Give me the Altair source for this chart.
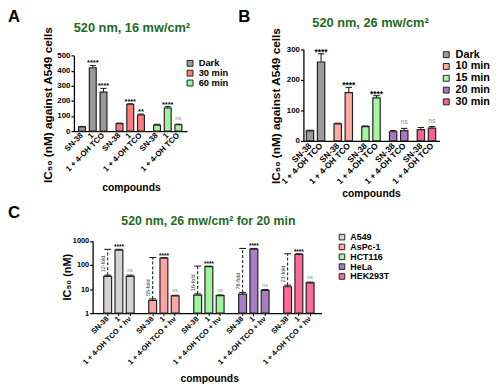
import altair as alt
import pandas as pd

FONT = "Liberation Sans"
GREEN = "#1d6b1d"
INK = "#222222"

# ---------------- Panel A data ----------------
A_title = "520 nm, 16 mw/cm²"
A_groups = ["Dark", "30 min", "60 min"]
A_compounds = ["SN-38", "1", "1 + 4-OH TCO"]
A_values = [[28, 420, 258], [50, 178, 107], [40, 153, 42]]
A_errors = [[3, 15, 25], [3, 3, 6], [5, 10, 4]]
A_sig = [["", "****", "****"], ["", "****", "**"], ["", "****", "ns"]]
A_colors = ["#9a9a9a", "#ff7b7b", "#9ef29e"]
A_yticks = [0, 100, 200, 300, 400, 500]

# ---------------- Panel B data ----------------
B_title = "520 nm, 26 mw/cm²"
B_groups = ["Dark", "10 min", "15 min", "20 min", "30 min"]
B_compounds = ["SN-38", "1 + 4-OH TCO"]
B_values = [[33, 258], [56, 158], [47, 141], [30, 34], [37, 42]]
B_errors = [[2, 27], [2, 17], [2, 7], [4, 7], [7, 5]]
B_sig = [["", "****"], ["", "****"], ["", "****"], ["", "ns"], ["", "ns"]]
B_colors = ["#9a9a9a", "#ffaaa2", "#a8f5a0", "#a77bc4", "#f5628f"]
B_yticks = [0, 100, 200, 300]

# ---------------- Panel C data ----------------
C_title = "520 nm, 26 mw/cm² for 20 min"
C_groups = ["A549", "AsPc-1", "HCT116", "HeLa", "HEK293T"]
C_compounds = ["SN-38", "1", "1 + 4-OH TCO + hν"]
C_values = [[34, 420, 34], [3.4, 195, 5.2], [5.6, 86, 5.3], [6.2, 460, 8.8], [12.5, 275, 18]]
C_errors = [[4, 30, 4], [0.5, 10, 0.3], [0.7, 4, 0.4], [1, 30, 0.7], [2, 20, 1.5]]
C_sig = [["", "****", "ns"]] * 5
C_fold = ["12-fold", "55-fold", "16-fold", "76-fold", "21-fold"]
C_colors = ["#d4d4d4", "#ffa3a3", "#9ef59e", "#a87dc4", "#ff6a98"]
C_yticks = [1, 10, 100, 1000]

W, H = 492, 381


def build(panel, groups, compounds, values, errors, sig, within_gap, group_gap, tail):
    rows, domain, keys = [], [], []
    k = 0
    for gi, g in enumerate(groups):
        for ci, c in enumerate(compounds):
            key = f"{c}|{g}"
            domain.append(key)
            keys.append(key)
            rows.append(dict(key=key, group=g, compound=c,
                             val=values[gi][ci],
                             top=values[gi][ci] + errors[gi][ci],
                             sig=sig[gi][ci]))
            if ci < len(compounds) - 1:
                for _ in range(within_gap):
                    domain.append(f"_{panel}{k}")
                    k += 1
        if gi < len(groups) - 1:
            for _ in range(group_gap):
                domain.append(f"_{panel}{k}")
                k += 1
    for _ in range(tail):
        domain.append(f"_{panel}{k}")
        k += 1
    return pd.DataFrame(rows), domain, keys


def text_layer(txt, x, y, size, color, align="center", weight="bold"):
    return alt.Chart(pd.DataFrame({"t": [txt]})).mark_text(
        font=FONT, fontSize=size, fontWeight=weight, color=color,
        align=align, baseline="middle"
    ).encode(x=alt.value(x), y=alt.value(y), text="t:N")


def make_panel(panel, groups, compounds, values, errors, sig, colors,
               within_gap, group_gap, tail, xrange, align, po,
               yscale, yaxis, xaxis_kw, legend_kw,
               bar_size, star_size, star_dy, ns_size, ns_dy, base_val,
               extra=None):
    df, domain, keys = build(panel, groups, compounds, values, errors, sig,
                             within_gap, group_gap, tail)
    xaxis = alt.Axis(orient="bottom", values=keys,
                     labelExpr="split(datum.label, '|')[0]",
                     labelAngle=315, labelAlign="right", labelBaseline="middle",
                     labelFontWeight="bold", labelOverlap=False,
                     title="compounds", titleFontWeight="bold",
                     titleAlign="center", titleBaseline="middle",
                     domainWidth=1.3, domainColor="black", tickColor="black",
                     tickWidth=1, grid=False, **xaxis_kw)
    X = alt.X("key:N", scale=alt.Scale(domain=domain, range=xrange,
                                       paddingInner=0, paddingOuter=po,
                                       align=align), axis=xaxis)

    def Y(f):
        return alt.Y(f"{f}:Q", scale=yscale, axis=yaxis)

    base = alt.Chart(df)
    bars = base.mark_bar(size=bar_size, stroke=INK, strokeWidth=1.2,
                         strokeOpacity=1, fillOpacity=1).encode(
        x=X, y=Y("val"), y2=alt.datum(base_val),
        fill=alt.Fill("group:N",
                      scale=alt.Scale(domain=groups, range=colors),
                      legend=alt.Legend(orient="none", title=None,
                                        symbolType="square",
                                        symbolStrokeColor=INK,
                                        symbolStrokeWidth=1,
                                        symbolOpacity=1,
                                        labelFont=FONT,
                                        labelFontWeight="bold",
                                        labelColor="black",
                                        padding=0, labelOffset=4,
                                        rowPadding=0,
                                        **legend_kw)))
    err = base.mark_rule(color=INK, strokeWidth=1.1).encode(
        x=X, y=Y("val"), y2="top:Q")
    cap = base.mark_tick(color=INK, thickness=1.1, size=bar_size - 1,
                         opacity=1).encode(x=X, y=Y("top"))
    stars = base.transform_filter("datum.sig != '' && datum.sig != 'ns'").mark_text(
        font=FONT, fontSize=star_size, fontWeight="bold", color="black",
        baseline="alphabetic", dy=star_dy).encode(x=X, y=Y("top"), text="sig:N")
    ns = base.transform_filter("datum.sig == 'ns'").mark_text(
        font=FONT, fontSize=ns_size, color="#8a8a8a",
        baseline="alphabetic", dy=ns_dy).encode(x=X, y=Y("top"), text="sig:N")
    layers = [bars, err, cap, stars, ns]
    if extra is not None:
        layers += extra(df, X, Y)
    return layers


# ---------------- Panel A ----------------
A_yaxis = alt.Axis(orient="left", offset=-67, values=A_yticks, tickSize=3,
                   tickWidth=1.2, domainWidth=1.3, domainColor="black",
                   tickColor="black", labelFontSize=8, labelFontWeight="bold",
                   labelPadding=1, grid=False,
                   title="IC₅₀ (nM) against A549 cells", titleFontSize=12,
                   titleFontWeight="bold", titleX=-27, titleY=95,
                   titleAngle=270, titleAlign="center", titleBaseline="middle")
A_layers = make_panel(
    "a", A_groups, A_compounds, A_values, A_errors, A_sig, A_colors,
    1, 2, 1, [67, 182], 0.906, 0.565,
    alt.Scale(domain=[0, 500], range=[122, 45.3], nice=False), A_yaxis,
    dict(offset=122 - H, ticks=False, tickSize=0, labelPadding=3,
         labelFontSize=8, titleFontSize=10.5, titleX=125, titleY=57),
    dict(legendX=180.3, legendY=48.8, symbolSize=36, labelFontSize=9.5,
         clipHeight=8.6),
    7, 7.5, 0, 6, -4, 0)
A_chart = alt.layer(
    *A_layers,
    text_layer("A", 0, 6, 17, "black", align="left"),
    text_layer(A_title, 126, 17, 13, GREEN),
)

# ---------------- Panel B ----------------
B_yaxis = alt.Axis(orient="left", offset=-300.3, values=B_yticks, tickSize=3,
                   tickWidth=1.2, domainWidth=1.3, domainColor="black",
                   tickColor="black", labelFontSize=8, labelFontWeight="bold",
                   labelPadding=1, grid=False,
                   title="IC₅₀ (nM) against A549 cells", titleFontSize=12,
                   titleFontWeight="bold", titleX=-28.3, titleY=96,
                   titleAngle=270, titleAlign="center", titleBaseline="middle")
B_layers = make_panel(
    "b", B_groups, B_compounds, B_values, B_errors, B_sig, B_colors,
    1, 2, 0, [300.3, 438.7], 0.44, 0.78,
    alt.Scale(domain=[0, 300], range=[132, 38.7], nice=False), B_yaxis,
    dict(offset=132 - H, ticks=False, tickSize=0, labelPadding=3,
         labelFontSize=8.5, titleFontSize=10.5, titleX=369, titleY=53),
    dict(legendX=440, legendY=40.1, symbolSize=36, labelFontSize=11,
         clipHeight=8.4),
    7.5, 8.5, 1, 6.5, -4, 0)
B_chart = alt.layer(
    *B_layers,
    text_layer("B", 234, 6, 17, "black", align="left"),
    text_layer(B_title, 368.5, 12.5, 13, GREEN),
)


# ---------------- Panel C ----------------
def fold_layers(df, X, Y):
    sn = df[df["compound"] == C_compounds[0]].reset_index(drop=True)
    one = df[df["compound"] == C_compounds[1]].reset_index(drop=True)
    fold = pd.DataFrame({"key": sn["key"], "lo": sn["top"], "hi": one["top"],
                         "label": C_fold})
    fb = alt.Chart(fold)
    line = fb.mark_rule(color=INK, strokeWidth=1.1, strokeDash=[3, 2]).encode(
        x=X, y=Y("lo"), y2="hi:Q")
    topcap = fb.mark_tick(color=INK, thickness=1.1, size=7, opacity=1).encode(
        x=X, y=Y("hi"))
    lab = fb.mark_text(font=FONT, fontSize=5.5, color="#333333", angle=270,
                       align="left", baseline="middle", dx=3, dy=-5).encode(
        x=X, y=Y("lo"), text="label:N")
    return [line, topcap, lab]


C_yaxis = alt.Axis(orient="left", offset=-86, values=C_yticks, format="d",
                   tickSize=3, tickWidth=1.2, domainWidth=1.3,
                   domainColor="black", tickColor="black", labelFontSize=7.5,
                   labelFontWeight="bold", labelPadding=1, grid=False,
                   title="IC₅₀ (nM)", titleFontSize=11, titleFontWeight="bold",
                   titleX=-25, titleY=270, titleAngle=270, titleAlign="center",
                   titleBaseline="middle")
C_layers = make_panel(
    "c", C_groups, C_compounds, C_values, C_errors, C_sig, C_colors,
    0, 1, 0, [86, 318.7], 0.62, 0.678,
    alt.Scale(type="log", domain=[1, 1000], range=[307, 233.7], nice=False),
    C_yaxis,
    dict(offset=307 - H, ticks=True, tickSize=2.5, labelPadding=2,
         labelFontSize=7.5, titleFontSize=10.5, titleX=204.5, titleY=66.5),
    dict(legendX=335, legendY=225.6, symbolSize=32, labelFontSize=9,
         clipHeight=8.3),
    8, 6.5, 0, 5.5, -3, 1, extra=fold_layers)
C_chart = alt.layer(
    *C_layers,
    text_layer("C", 0, 205.5, 17, "black", align="left"),
    text_layer(C_title, 203.7, 213.7, 12.5, GREEN),
)

chart = alt.layer(A_chart, B_chart, C_chart).resolve_scale(
    x="independent", y="independent", fill="independent"
).resolve_axis(
    x="independent", y="independent"
).resolve_legend(
    fill="independent"
).properties(
    width=W, height=H, autosize=alt.AutoSizeParams(type="none"), padding=0
).configure_view(
    strokeWidth=0
).configure_axis(
    labelFont=FONT, titleFont=FONT, labelColor="black", titleColor="black"
).configure_legend(
    labelFont=FONT
)

chart.save("out.html", embed_options={"renderer": "svg", "actions": False})
